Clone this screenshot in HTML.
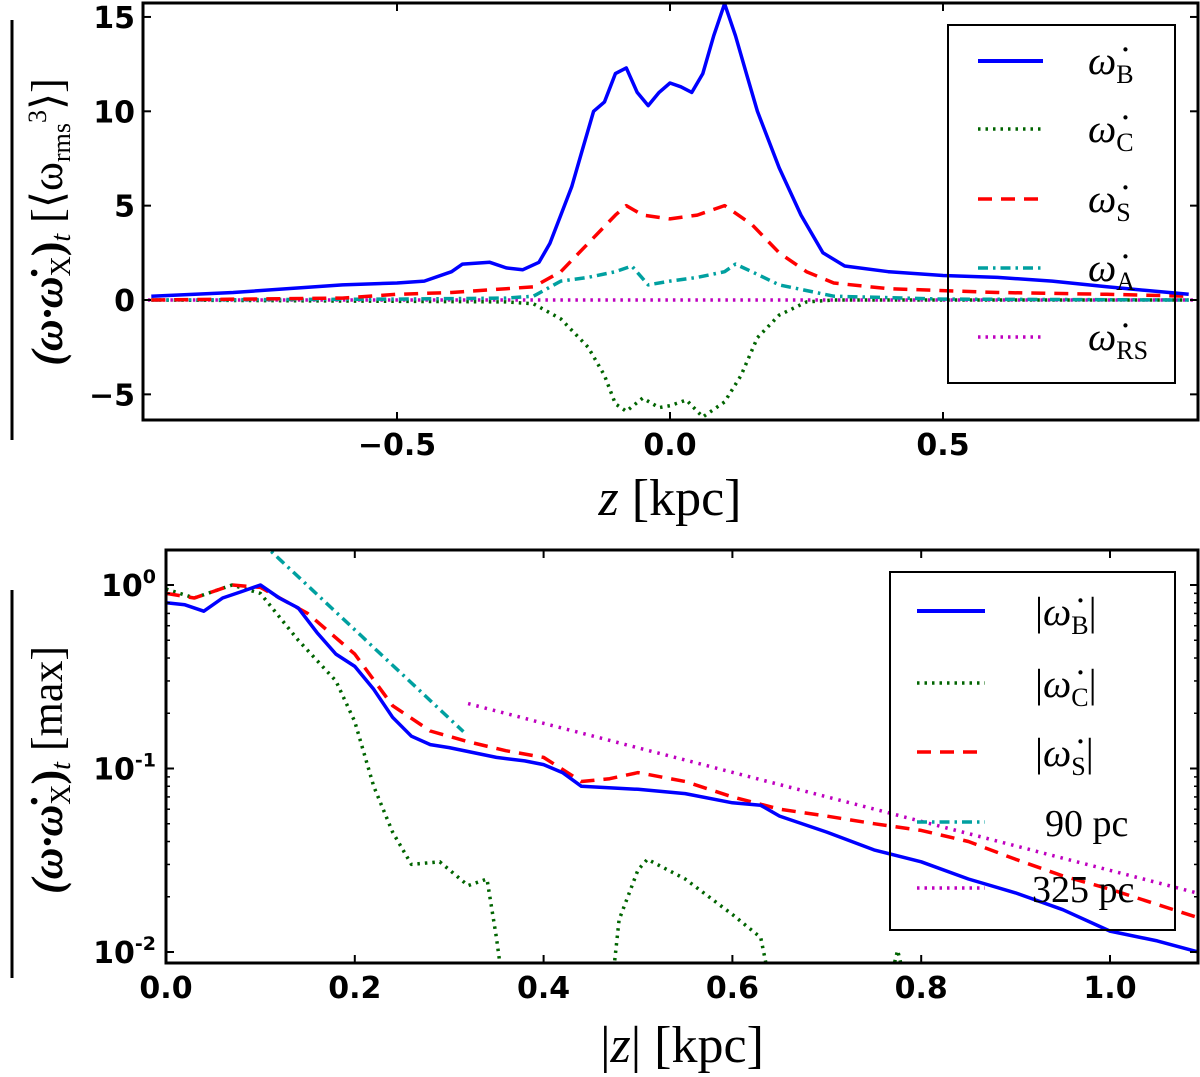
<!DOCTYPE html>
<html><head><meta charset="utf-8"><style>
html,body{margin:0;padding:0;background:#fff;}
svg{display:block;}
.tick{font-family:"DejaVu Sans","Liberation Sans",sans-serif;font-weight:bold;font-size:30px;fill:#000;}
.math{font-family:"Liberation Serif","DejaVu Serif",serif;fill:#000;}
</style></head><body>
<svg id="fig" width="1200" height="1077" viewBox="0 0 1200 1077" xmlns="http://www.w3.org/2000/svg">
<g id="topPanel"></g>
<g id="botPanel"></g>
</svg>
<script>
// ---- Top panel data (z in kpc, value in <w_rms^3>) ----
const topZ_B = [-0.95,-0.8,-0.6,-0.5,-0.45,-0.4,-0.38,-0.33,-0.3,-0.27,-0.24,-0.22,-0.2,-0.18,-0.16,-0.14,-0.12,-0.1,-0.08,-0.06,-0.04,-0.02,0.0,0.02,0.04,0.06,0.08,0.1,0.12,0.14,0.16,0.2,0.24,0.28,0.32,0.4,0.5,0.6,0.7,0.8,0.95];
const topB = [0.2,0.4,0.8,0.9,1.0,1.5,1.9,2.0,1.7,1.6,2.0,3.0,4.5,6,8,10,10.5,12,12.3,11,10.3,11,11.5,11.3,11,12,14,15.7,14,12,10,7,4.5,2.5,1.8,1.5,1.3,1.2,1.0,0.7,0.3];
const topZ_S = [-0.95,-0.6,-0.5,-0.4,-0.3,-0.25,-0.2,-0.15,-0.1,-0.08,-0.05,0,0.05,0.1,0.15,0.2,0.25,0.3,0.4,0.6,0.8,0.95];
const topS = [0,0.1,0.3,0.4,0.6,0.7,1.5,3,4.5,5,4.5,4.3,4.5,5.0,4,2.5,1.5,0.9,0.6,0.4,0.3,0.2];
const topZ_A = [-0.95,-0.5,-0.3,-0.25,-0.2,-0.15,-0.1,-0.07,-0.04,0,0.05,0.1,0.12,0.15,0.2,0.3,0.5,0.95];
const topA = [0,0.05,0.1,0.2,1,1.2,1.5,1.8,0.8,1.0,1.2,1.5,1.9,1.5,0.8,0.2,0.05,0];
const topZ_C = [-0.95,-0.3,-0.25,-0.2,-0.15,-0.12,-0.1,-0.08,-0.05,-0.02,0.0,0.03,0.06,0.1,0.13,0.16,0.2,0.25,0.3,0.95];
const topC = [0,-0.1,-0.2,-1,-2.5,-4,-5.5,-5.9,-5.2,-5.7,-5.6,-5.3,-6.2,-5.4,-4,-2,-0.8,-0.1,0,0];
const topZ_RS = [-0.97,0.97];
const topRS = [0,0];
const topXTicks = [-0.5,0.0,0.5];
const topXTickLabels = ["\u22120.5","0.0","0.5"];
const topYTicks = [-5,0,5,10,15];
const topYTickLabels = ["\u22125","0","5","10","15"];

// ---- Bottom panel data (|z| in kpc, normalized value, log) ----
const botZ_B = [0,0.02,0.04,0.06,0.08,0.1,0.12,0.14,0.16,0.18,0.2,0.22,0.24,0.26,0.28,0.3,0.35,0.38,0.4,0.42,0.44,0.5,0.55,0.6,0.63,0.65,0.7,0.75,0.8,0.85,0.9,0.95,1.0,1.05,1.1];
const botB = [0.8,0.78,0.72,0.85,0.92,1.0,0.85,0.75,0.55,0.42,0.36,0.27,0.19,0.15,0.135,0.13,0.115,0.11,0.105,0.095,0.08,0.077,0.073,0.065,0.063,0.055,0.045,0.036,0.031,0.025,0.021,0.017,0.013,0.0115,0.0098];
const botZ_S = [0,0.03,0.07,0.1,0.15,0.2,0.24,0.28,0.32,0.36,0.4,0.44,0.47,0.5,0.55,0.6,0.65,0.7,0.75,0.8,0.85,0.9,0.95,1.0,1.1];
const botS = [0.9,0.85,1.0,0.97,0.7,0.42,0.22,0.16,0.14,0.125,0.115,0.085,0.088,0.095,0.085,0.07,0.06,0.055,0.05,0.046,0.04,0.032,0.026,0.022,0.015];
const botZ_C = [0,0.03,0.07,0.1,0.14,0.18,0.2,0.22,0.24,0.26,0.29,0.32,0.34,0.35,0.36,0.47,0.48,0.5,0.51,0.55,0.6,0.63,0.645,0.76,0.775,0.79];
const botC = [0.95,0.85,1.0,0.9,0.5,0.3,0.18,0.08,0.045,0.03,0.031,0.023,0.025,0.012,0.005,0.005,0.015,0.028,0.032,0.025,0.016,0.012,0.005,0.005,0.0102,0.005];
const fit90Range = [0.1,0.315];
const fit90Amp = 5.26, fit90Scale = 0.09;
const fit325Range = [0.32,1.1];
const fit325Amp = 0.604, fit325Scale = 0.325;
const botXTicks = [0.0,0.2,0.4,0.6,0.8,1.0];
const botXTickLabels = ["0.0","0.2","0.4","0.6","0.8","1.0"];
const botYTicks = [0,-1,-2];
const botYTickExp = ["0","-1","-2"];

const NS="http://www.w3.org/2000/svg";
function mk(tag, parent, attrs){const e=document.createElementNS(NS,tag);for(const k in attrs)e.setAttribute(k,attrs[k]);parent.appendChild(e);return e;}

const T={x0:143,x1:1198,y0:3,y1:420};
const tx = z => 670 + z*546;
const ty = v => 300 - v*18.87;
const B={x0:166,x1:1198,y0:550,y1:963};
const bx = z => 166 + z*944;
const by = v => 585 - (Math.log10(Math.max(v,1e-4)))*183.5;

function pathOf(xs, ys, fx, fy){return xs.map((x,i)=>(i?'L':'M')+fx(x).toFixed(1)+' '+fy(ys[i]).toFixed(1)).join(' ');}

// ---------- TOP ----------
const topPanel=document.getElementById('topPanel');
const cpt=mk('clipPath',topPanel,{id:'ctop'});
mk('rect',cpt,{x:T.x0,y:T.y0,width:T.x1-T.x0,height:T.y1-T.y0});
const tg=mk('g',topPanel,{'clip-path':'url(#ctop)'});


const topSeries=[
 [topZ_RS,topRS,'#bf00bf','2.5 5',3.5,'series-rs'],
 [topZ_C,topC,'#006400','2.5 5',3.5,'series-c'],
 [topZ_A,topA,'#00a0a0','10 5 2.5 5',3.5,'series-a'],
 [topZ_S,topS,'#ff0000','14 9',3.5,'series-s'],
 [topZ_B,topB,'#0000ff','',3.5,'series-b']];
topSeries.forEach(s=>{const p=mk('path',tg,{d:pathOf(s[0],s[1],tx,ty),fill:'none',stroke:s[2],'stroke-width':s[4],'stroke-dasharray':s[3],'stroke-linejoin':'round'});
 
 });
mk('rect',topPanel,{x:T.x0,y:T.y0,width:T.x1-T.x0,height:T.y1-T.y0,fill:'none',stroke:'#000','stroke-width':3});
topXTicks.forEach((t,i)=>{mk('line',topPanel,{x1:tx(t),x2:tx(t),y1:T.y1,y2:T.y1-8,stroke:'#000','stroke-width':2});mk('line',topPanel,{x1:tx(t),x2:tx(t),y1:T.y0,y2:T.y0+8,stroke:'#000','stroke-width':2});
 const l=mk('text',topPanel,{x:tx(t),y:T.y1+35,'text-anchor':'middle',class:'tick'});l.textContent=topXTickLabels[i];
 
 });
topYTicks.forEach((t,i)=>{mk('line',topPanel,{x1:T.x0,x2:T.x0+8,y1:ty(t),y2:ty(t),stroke:'#000','stroke-width':2});mk('line',topPanel,{x1:T.x1,x2:T.x1-8,y1:ty(t),y2:ty(t),stroke:'#000','stroke-width':2});
 const l=mk('text',topPanel,{x:T.x0-8,y:ty(t)+11,'text-anchor':'end',class:'tick'});l.textContent=topYTickLabels[i];
 
 });

// ---------- BOTTOM ----------
const botPanel=document.getElementById('botPanel');
const cp=mk('clipPath',botPanel,{id:'cbot'});mk('rect',cp,{x:B.x0,y:B.y0,width:B.x1-B.x0,height:B.y1-B.y0});
const bg=mk('g',botPanel,{'clip-path':'url(#cbot)'});


function fitPts(r,a,s){const xs=[],ys=[];for(let i=0;i<=20;i++){const z=r[0]+(r[1]-r[0])*i/20;xs.push(z);ys.push(a*Math.exp(-z/s));}return [xs,ys];}
const f90=fitPts(fit90Range,fit90Amp,fit90Scale), f325=fitPts(fit325Range,fit325Amp,fit325Scale);
const botSeries=[
 [f325[0],f325[1],'#bf00bf','2.5 6',3.5,'fit-325pc'],
 [f90[0],f90[1],'#00a0a0','10 5 2.5 5',3.5,'fit-90pc'],
 [botZ_C,botC,'#006400','2.5 5',3.5,'series-c-abs'],
 [botZ_S,botS,'#ff0000','14 9',3.5,'series-s-abs'],
 [botZ_B,botB,'#0000ff','',3.5,'series-b-abs']];
botSeries.forEach(s=>{const p=mk('path',bg,{d:pathOf(s[0],s[1],bx,by),fill:'none',stroke:s[2],'stroke-width':s[4],'stroke-dasharray':s[3],'stroke-linejoin':'round'});
 
 });
mk('rect',botPanel,{x:B.x0,y:B.y0,width:B.x1-B.x0,height:B.y1-B.y0,fill:'none',stroke:'#000','stroke-width':3});
botXTicks.forEach((t,i)=>{mk('line',botPanel,{x1:bx(t),x2:bx(t),y1:B.y1,y2:B.y1-8,stroke:'#000','stroke-width':2});mk('line',botPanel,{x1:bx(t),x2:bx(t),y1:B.y0,y2:B.y0+8,stroke:'#000','stroke-width':2});
 const l=mk('text',botPanel,{x:bx(t),y:B.y1+35,'text-anchor':'middle',class:'tick'});l.textContent=botXTickLabels[i];
 
 });
botYTicks.forEach((t,i)=>{const y=by(Math.pow(10,t));
 mk('line',botPanel,{x1:B.x0,x2:B.x0+8,y1:y,y2:y,stroke:'#000','stroke-width':2});mk('line',botPanel,{x1:B.x1,x2:B.x1-8,y1:y,y2:y,stroke:'#000','stroke-width':2});
 for(let m=2;m<10;m++){const yy=by(m*Math.pow(10,t));if(yy>B.y0&&yy<B.y1){mk('line',botPanel,{x1:B.x0,x2:B.x0+4,y1:yy,y2:yy,stroke:'#000','stroke-width':1.5});mk('line',botPanel,{x1:B.x1,x2:B.x1-4,y1:yy,y2:yy,stroke:'#000','stroke-width':1.5});}}
 const l=mk('text',botPanel,{x:B.x0-10,y:y+11,'text-anchor':'end',class:'tick'});
 
 
 const a=mk('tspan',l,{});a.textContent='10';const b=mk('tspan',l,{dy:-13,'font-size':'19px'});b.textContent=botYTickExp[i];});
</script>
<svg width="1200" height="1077" style="position:absolute;left:0;top:0" xmlns="http://www.w3.org/2000/svg">
<g>
<rect x="948" y="25" width="227" height="358" fill="none" stroke="#000" stroke-width="2"/>
<line x1="978" y1="61" x2="1043" y2="61" stroke="#0000ff" stroke-width="4"/>
<line x1="978" y1="129" x2="1043" y2="129" stroke="#006400" stroke-width="3.5" stroke-dasharray="2.5 5"/>
<line x1="978" y1="199" x2="1043" y2="199" stroke="#ff0000" stroke-width="3.5" stroke-dasharray="14 9"/>
<line x1="978" y1="268" x2="1043" y2="268" stroke="#00a0a0" stroke-width="3.5" stroke-dasharray="10 5 2.5 5"/>
<line x1="978" y1="337" x2="1043" y2="337" stroke="#bf00bf" stroke-width="3.5" stroke-dasharray="2.5 5"/>
<text class="math" x="1088" y="74" font-size="40" font-style="italic">ω̇<tspan font-style="normal" font-size="26" dy="9">B</tspan></text>
<text class="math" x="1088" y="142" font-size="40" font-style="italic">ω̇<tspan font-style="normal" font-size="26" dy="9">C</tspan></text>
<text class="math" x="1088" y="212" font-size="40" font-style="italic">ω̇<tspan font-style="normal" font-size="26" dy="9">S</tspan></text>
<text class="math" x="1088" y="281" font-size="40" font-style="italic">ω̇<tspan font-style="normal" font-size="26" dy="9">A</tspan></text>
<text class="math" x="1088" y="350" font-size="40" font-style="italic">ω̇<tspan font-style="normal" font-size="26" dy="9">RS</tspan></text>
</g>
<g>
<rect x="890" y="572" width="285" height="358" fill="none" stroke="#000" stroke-width="2"/>
<line x1="917" y1="611" x2="985" y2="611" stroke="#0000ff" stroke-width="4"/>
<line x1="917" y1="683" x2="985" y2="683" stroke="#006400" stroke-width="3.5" stroke-dasharray="2.5 5"/>
<line x1="917" y1="752" x2="985" y2="752" stroke="#ff0000" stroke-width="3.5" stroke-dasharray="14 9"/>
<line x1="917" y1="822" x2="985" y2="822" stroke="#00a0a0" stroke-width="3.5" stroke-dasharray="10 5 2.5 5"/>
<line x1="917" y1="888" x2="985" y2="888" stroke="#bf00bf" stroke-width="3.5" stroke-dasharray="2.5 5"/>
<text class="math" x="1035" y="625" font-size="40">|<tspan font-style="italic">ω̇</tspan><tspan font-size="26" dy="9">B</tspan><tspan dy="-9">|</tspan></text>
<text class="math" x="1035" y="697" font-size="40">|<tspan font-style="italic">ω̇</tspan><tspan font-size="26" dy="9">C</tspan><tspan dy="-9">|</tspan></text>
<text class="math" x="1035" y="766" font-size="40">|<tspan font-style="italic">ω̇</tspan><tspan font-size="26" dy="9">S</tspan><tspan dy="-9">|</tspan></text>
<text class="math" x="1045" y="836" font-size="38">90 pc</text>
<text class="math" x="1032" y="902" font-size="38">325 pc</text>
</g>
<text class="math" x="670" y="515" font-size="52" text-anchor="middle"><tspan font-style="italic">z</tspan> [kpc]</text>
<text class="math" x="682" y="1062" font-size="52" text-anchor="middle">|<tspan font-style="italic">z</tspan>| [kpc]</text>
<text class="math" transform="translate(62,222) rotate(-90)" font-size="44" text-anchor="middle"><tspan font-weight="bold" font-style="italic">(ω·ω̇</tspan><tspan font-size="28" dy="8">X</tspan><tspan font-weight="bold" dy="-8">)</tspan><tspan font-style="italic" font-size="28" dy="8">t</tspan><tspan dy="-8"> [⟨ω</tspan><tspan font-size="26" dy="8">rms</tspan><tspan font-size="26" dy="-24">3</tspan><tspan dy="16">⟩]</tspan></text>
<line x1="12" y1="440" x2="12" y2="20" stroke="#000" stroke-width="3"/>
<text class="math" transform="translate(62,770) rotate(-90)" font-size="44" text-anchor="middle"><tspan font-weight="bold" font-style="italic">(ω·ω̇</tspan><tspan font-size="28" dy="8">X</tspan><tspan font-weight="bold" dy="-8">)</tspan><tspan font-style="italic" font-size="28" dy="8">t</tspan><tspan dy="-8"> [max]</tspan></text>
<line x1="12" y1="978" x2="12" y2="590" stroke="#000" stroke-width="3"/>
</svg>
</body></html>
